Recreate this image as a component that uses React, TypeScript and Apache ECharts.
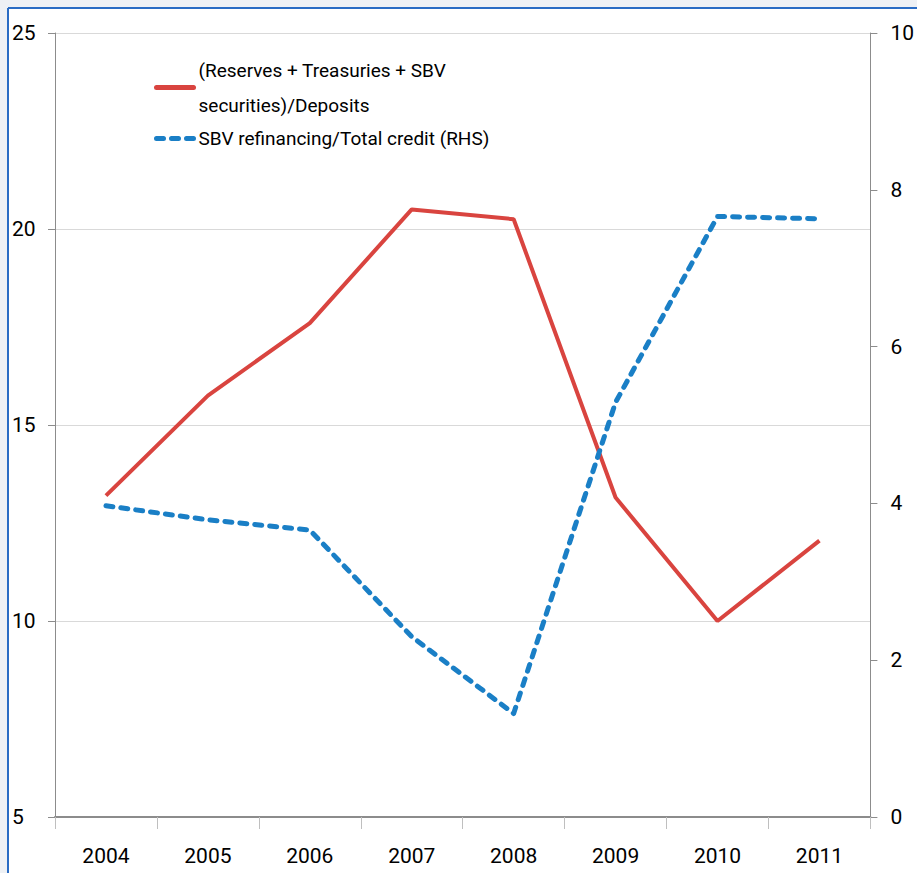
import React, { useEffect, useRef } from "react";
import * as echarts from "echarts";

const years = ["2004", "2005", "2006", "2007", "2008", "2009", "2010", "2011"];
const reservesRatio = [13.2, 15.75, 17.6, 20.5, 20.25, 13.15, 10.0, 12.05];
const sbvRefinancing = [3.97, 3.79, 3.66, 2.3, 1.32, 5.29, 7.66, 7.63];
const leftTicks = { min: 5, max: 25, interval: 5 };
const rightTicks = { min: 0, max: 10, interval: 2 };

const NAME_RED = "(Reserves + Treasuries + SBV securities)/Deposits";
const NAME_BLUE = "SBV refinancing/Total credit (RHS)";

const FONT = "Roboto, 'Noto Sans', sans-serif";

export default function App() {
  const ref = useRef<HTMLDivElement>(null);
  useEffect(() => {
    if (!ref.current) return;
    const chart = echarts.init(ref.current, undefined, { renderer: "svg" });
    chart.setOption({
      animation: false,
      backgroundColor: "#eef1f5",
      textStyle: { fontFamily: FONT },
      graphic: [
        { type: "rect", shape: { x: 9, y: 9, width: 917, height: 873 }, style: { fill: "#ffffff" }, z: -10, silent: true },
        { type: "line", shape: { x1: 8, y1: 8, x2: 917, y2: 8 }, style: { stroke: "#2a6cc4", lineWidth: 2 }, z: -9, silent: true },
        { type: "line", shape: { x1: 8, y1: 8, x2: 8, y2: 873 }, style: { stroke: "#2a6cc4", lineWidth: 2 }, z: -9, silent: true },
      ],
      grid: { left: 55, right: 44, top: 33, bottom: 56, containLabel: false },
      legend: {
        orient: "vertical",
        left: 149,
        top: 30,
        itemWidth: 37,
        itemHeight: 6,
        itemGap: -19,
        itemStyle: { opacity: 0 },
        lineStyle: { width: 5, cap: "round" },
        textStyle: { fontSize: 19, color: "#000", fontFamily: FONT, lineHeight: 35 },
        formatter: (n: string) =>
          n === NAME_RED ? "(Reserves + Treasuries + SBV\nsecurities)/Deposits" : n,
        data: [
          { name: NAME_RED, textStyle: { padding: [35, 0, 0, 0] } },
          { name: NAME_BLUE },
        ],
      },
      xAxis: {
        type: "category",
        data: years,
        boundaryGap: true,
        axisLine: { lineStyle: { color: "#8c8c8c", width: 2 } },
        axisTick: { show: true, length: 12, inside: false, lineStyle: { color: "#bfbfbf" } },
        axisLabel: { fontSize: 21, color: "#000", margin: 28, fontFamily: FONT },
      },
      yAxis: [
        {
          type: "value",
          min: leftTicks.min,
          max: leftTicks.max,
          interval: leftTicks.interval,
          position: "left",
          axisLine: { show: true, lineStyle: { color: "#8c8c8c" } },
          axisTick: { show: true, length: 7, lineStyle: { color: "#8c8c8c" } },
          axisLabel: { fontSize: 21, color: "#000", align: "left", margin: 43, fontFamily: FONT },
          splitLine: { show: true, lineStyle: { color: "#d9d9d9", width: 1 } },
        },
        {
          type: "value",
          min: rightTicks.min,
          max: rightTicks.max,
          interval: rightTicks.interval,
          position: "right",
          axisLine: { show: true, lineStyle: { color: "#8c8c8c" } },
          axisTick: { show: true, length: 7, lineStyle: { color: "#8c8c8c" } },
          axisLabel: { fontSize: 21, color: "#000", align: "left", margin: 20, fontFamily: FONT },
          splitLine: { show: false },
        },
      ],
      series: [
        {
          name: NAME_RED,
          type: "line",
          yAxisIndex: 0,
          data: reservesRatio,
          symbol: "none",
          color: "#d9443f",
          lineStyle: { color: "#d9443f", width: 4 },
          z: 3,
        },
        {
          name: NAME_BLUE,
          type: "line",
          yAxisIndex: 1,
          data: sbvRefinancing,
          symbol: "none",
          color: "#1a7fc6",
          lineStyle: { color: "#1a7fc6", width: 5, type: [7, 8], cap: "round", join: "round" },
          z: 4,
        },
      ],
    });
    return () => chart.dispose();
  }, []);
  return (
    <div
      ref={ref}
      style={{ position: "absolute", left: 0, top: 0, width: 917, height: 873 }}
    />
  );
}
